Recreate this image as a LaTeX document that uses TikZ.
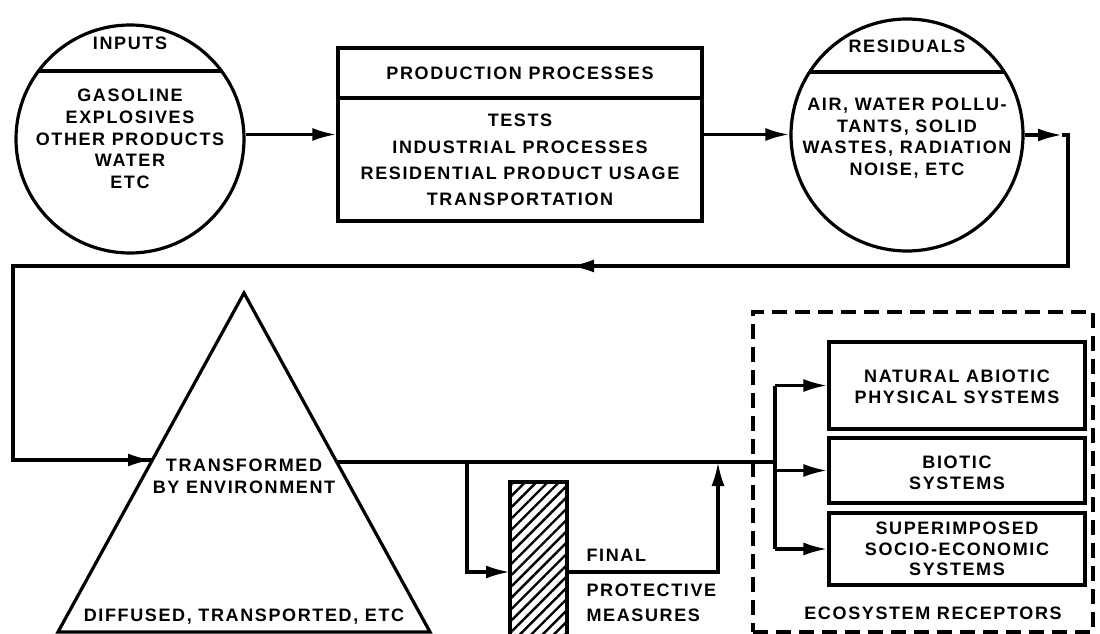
\documentclass[tikz,border=0pt]{standalone}
\usepackage{fontspec}
\newfontfamily\diagfont{Liberation Sans}[LetterSpace=9]
\usetikzlibrary{arrows.meta,patterns.meta,calc}

\tikzset{every picture/.style={line width=3.2pt}}
\tikzset{
  lbl/.style={font=\diagfont\bfseries\fontsize{18}{21.7}\selectfont, align=center, inner sep=0pt},
  wide/.style={font=\diagfont\bfseries\fontsize{18}{26.3}\selectfont},
  tight/.style={font=\diagfont\bfseries\fontsize{18}{20.6}\selectfont},
  tip/.style={-{Latex[length=24pt,width=13pt]}},
  rbox/.style={draw, inner sep=0pt, minimum width=256pt}
}

\begin{document}
\begin{tikzpicture}[x=1pt, y=-1pt]
  \useasboundingbox (0,0) rectangle (1100,634);

  % Inputs
  \node[draw, circle, minimum size=228pt, inner sep=0pt] (inp) at (130,139) {};
  \draw ($(inp.center)+(-91.5,-68)$) -- ($(inp.center)+(91.5,-68)$);
  \node[lbl] (inptitle) at (130,43) {INPUTS};
  \node[lbl] (inpbody) at (130,139) {GASOLINE\\EXPLOSIVES\\OTHER PRODUCTS\\WATER\\ETC};

  % Production processes
  \node[draw, minimum width=364pt, minimum height=173pt, inner sep=0pt] (prod) at (520,134.5) {};
  \coordinate (prodcut) at (520,98);
  \draw (prod.west |- prodcut) -- (prod.east |- prodcut);
  \node[lbl] (prodtitle) at (520,73) {PRODUCTION PROCESSES};
  \node[lbl, wide] (prodbody) at (520,160) {TESTS\\INDUSTRIAL PROCESSES\\RESIDENTIAL PRODUCT USAGE\\TRANSPORTATION};

  % Residuals
  \node[draw, circle, minimum size=232pt, inner sep=0pt] (res) at (907,135) {};
  \draw ($(res.center)+(-97.4,-63)$) -- ($(res.center)+(97.4,-63)$);
  \node[lbl] (restitle) at (907,46) {RESIDUALS};
  \node[lbl] (resbody) at (907,138) {AIR, WATER POLLU-\\TANTS, SOLID\\WASTES, RADIATION\\NOISE, ETC};

  % Environment
  \coordinate (apex) at (244,293);
  \coordinate (bl) at (58,632);
  \coordinate (br) at (430,632);
  \draw[line join=miter] (apex) -- (br) -- (bl) -- cycle;
  \coordinate (tl) at (152,460);
  \coordinate (tr) at (336,460);
  \node[lbl] (envtitle) at (244,476) {TRANSFORMED\\BY ENVIRONMENT};
  \node[lbl] (envbody) at (244,617) {DIFFUSED, TRANSPORTED, ETC};

  % Final protective measures
  \node[draw, pattern={Lines[angle=45, distance=8pt, line width=2.4pt]}, minimum width=57pt, minimum height=158pt, inner sep=0pt] (filter) at (538.5,561) {};
  \foreach \t/\y in {FINAL/555, PROTECTIVE/590, MEASURES/615}
    \node[lbl, anchor=west] (fpm-\y) at (585,\y) {\t};

  % Ecosystem receptors
  \node[draw, dash pattern=on 15pt off 8pt, minimum width=340pt, minimum height=320pt, inner sep=0pt] (eco) at (923,472) {};
  \node[rbox, minimum height=87pt] (rec1) at (957,385.5) {};
  \node[rbox, minimum height=65pt] (rec2) at (957,470.5) {};
  \node[rbox, minimum height=72pt] (rec3) at (957,549) {};
  \node[lbl, tight] (rec1txt) at (957,387) {NATURAL ABIOTIC\\PHYSICAL SYSTEMS};
  \node[lbl, tight] (rec2txt) at (957,473) {BIOTIC\\SYSTEMS};
  \node[lbl, tight] (rec3txt) at (957,549) {SUPERIMPOSED\\SOCIO-ECONOMIC\\SYSTEMS};
  \node[lbl] (ecotitle) at (933,613) {ECOSYSTEM RECEPTORS};

  % Flow
  \coordinate (resout) at (1062,135);
  \coordinate (ne) at (1068,135);
  \coordinate (se) at (1068,266);
  \coordinate (ret) at (570,266);
  \coordinate (sw) at (13,266);
  \coordinate (split) at (775,462);
  \coordinate (bypass) at (467,462);
  \coordinate (rejoin) at (718,462);
  \coordinate (fin) at (510,572);

  \draw[tip] (inp.east |- prod.west) -- (prod.west);
  \draw[tip] (prod.east) -- (prod.east -| res.west);
  \draw[tip] (res.east) -- (resout);
  \draw[line join=miter] (resout) -- (ne) -- (se) -- (ret);
  \draw[tip] (se) -- (ret);
  \draw[line join=miter] (ret) -- (sw) -- (sw |- tl) -- (tl);
  \draw[tip] (sw |- tl) -- (tl);
  \draw (tr |- split) -- (split);
  \draw[tip, line join=miter] (bypass) -- (bypass |- fin) -- (fin);
  \draw[tip, line join=miter] (filter.east |- fin) -- (rejoin |- fin) -- (rejoin);
  \draw (split |- rec1.west) -- (split |- rec3.west);
  \foreach \b in {rec1, rec2, rec3}
    \draw[tip] (split |- \b.west) -- (\b.west);
\end{tikzpicture}
\end{document}
